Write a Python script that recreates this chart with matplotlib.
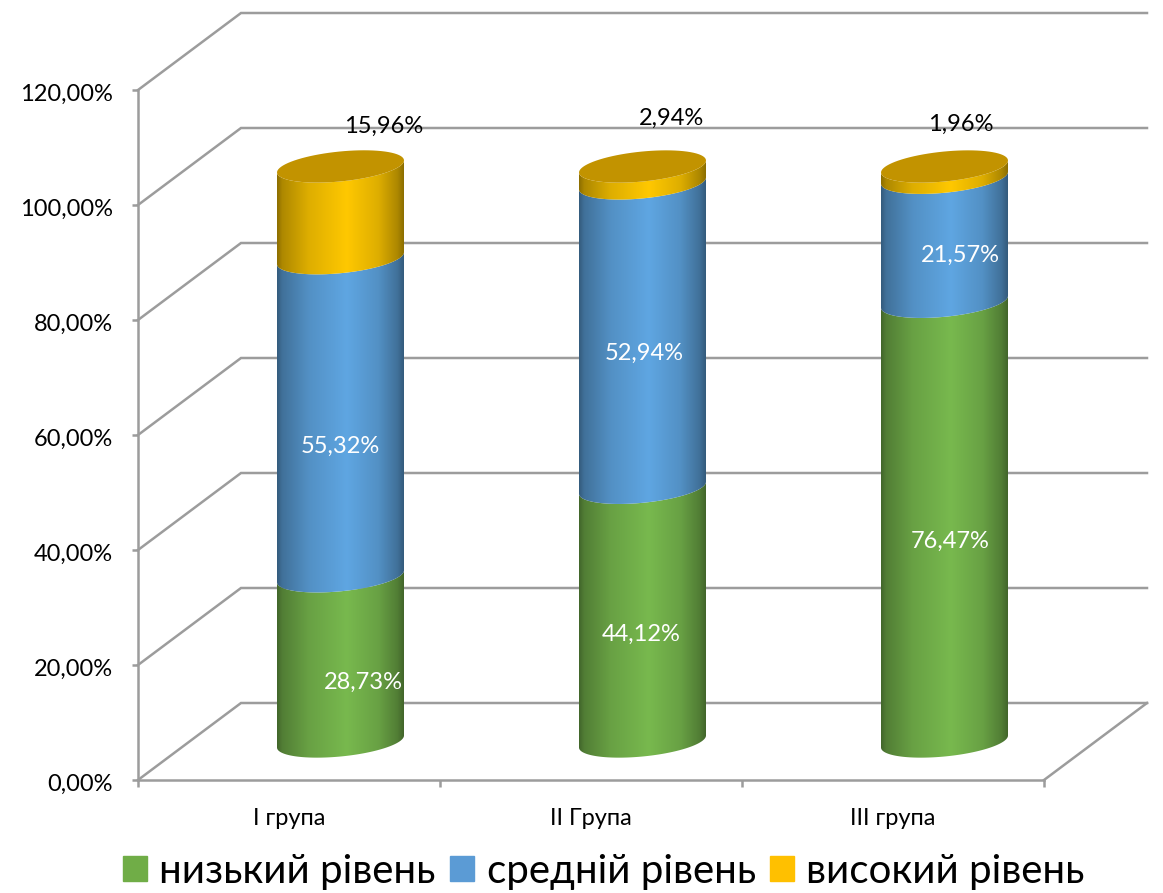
import numpy as np
import matplotlib
matplotlib.use('AGG')
import matplotlib.pyplot as plt
from matplotlib.patches import Patch, Polygon
from matplotlib.ticker import FuncFormatter, MultipleLocator
from matplotlib.transforms import ScaledTranslation

plt.rcParams['font.family'] = ['Lato', 'Noto Sans', 'DejaVu Sans']

groups = ['I група', 'II Група', 'III група']
low = [28.73, 44.12, 76.47]
mid = [55.32, 52.94, 21.57]
high = [15.96, 2.94, 1.96]
series_names = ['низький рівень', 'средній рівень', 'високий рівень']
tick_values = [0, 20, 40, 60, 80, 100, 120]

series_colors = ['#78B94E', '#5FA6E2', '#FFC800']
legend_colors = ['#70AD47', '#5B9BD5', '#FFC000']
cap_color = '#C29300'
grid_color = '#9C9C9C'

# label shift from the middle of each segment, in pixels
low_shift = [(23, -23), (-1, -20), (6, -20)]
mid_shift = [(0, -29), (2, -18), (16, -16)]
high_shift = [(43, 86), (29, 57), (16, 48)]

# depth of the fake 3d box and size of the cylinder, in data units
DEPTH_X = 103 / 302
DEPTH_Y = 77 / 5.75
RADIUS = 63.5 / 302
ELL_B = 15 / 5.75
ELL_TILT = 6 / 5.75

W, H = 1163, 893
fig = plt.figure(figsize=(W / 100, H / 100), dpi=100)
ax = fig.add_axes([138 / W, 1 - 780 / H, (1044 - 138) / W, 690 / H])
ax.patch.set_alpha(0)


def percent(v, pos=None):
    return f'{v:.2f}'.replace('.', ',') + '%'


def ellipse(cx, cy, start, stop, n=80):
    t = np.linspace(start, stop, n)
    x = cx + RADIUS * np.cos(t)
    y = cy + ELL_TILT * np.cos(t) + ELL_B * np.sin(t)
    return np.column_stack([x, y])


def shaded(color):
    # horizontal shading across the cylinder, dark on both edges
    rgb = np.array(matplotlib.colors.to_rgb(color))
    pos = np.linspace(0, 1, 256)
    k = np.interp(pos, [0, 0.04, 0.25, 0.55, 0.8, 0.95, 1],
                  [0.55, 0.68, 0.87, 1.0, 0.87, 0.68, 0.55])
    return (k[:, None] * rgb)[None, :, :]


def draw_segment(cx, y0, y1, color, z):
    lower = ellipse(cx, y0, np.pi, 2 * np.pi)
    upper = ellipse(cx, y1, 2 * np.pi, np.pi)
    poly = Polygon(np.vstack([lower, upper]), closed=True, fc='none', ec='none',
                   transform=ax.transData)
    ax.add_patch(poly)
    img = ax.imshow(shaded(color), aspect='auto', zorder=z, clip_on=True,
                    extent=[cx - RADIUS, cx + RADIUS, y0 - 4, y1 + 4])
    img.set_clip_path(poly)


# wall and floor lines
for v in tick_values:
    ax.plot([0, DEPTH_X, 3 + DEPTH_X], [v, v + DEPTH_Y, v + DEPTH_Y], color=grid_color,
            lw=1.8, clip_on=False, zorder=1, solid_joinstyle='miter')
ax.plot([3, 3 + DEPTH_X], [0, DEPTH_Y], color=grid_color, lw=1.8, clip_on=False, zorder=1)

# stacked cylinders
for i in range(len(groups)):
    cx = i + 0.5 + DEPTH_X / 2
    base = DEPTH_Y / 2
    bottom = 0
    for n, values in enumerate([low, mid, high]):
        draw_segment(cx, base + bottom, base + bottom + values[i], series_colors[n], 3 + n)
        bottom += values[i]
    cap = Polygon(ellipse(cx, base + bottom, 0, 2 * np.pi), closed=True, fc=cap_color,
                  ec='none', zorder=7)
    ax.add_patch(cap)

    # value labels
    running = 0
    for values, shift, col in [(low, low_shift, 'white'), (mid, mid_shift, 'white'),
                               (high, high_shift, 'black')]:
        ax.annotate(percent(values[i]), (cx, base + running + values[i] / 2),
                    xytext=shift[i], textcoords='offset pixels', ha='center', va='center',
                    color=col, fontsize=17, zorder=9, annotation_clip=False)
        running += values[i]

ax.set_xlim(0, 3)
ax.set_ylim(0, 120)
ax.yaxis.set_major_locator(MultipleLocator(20))
ax.yaxis.set_major_formatter(FuncFormatter(percent))
ax.set_xticks([0, 1, 2, 3])
ax.set_xticks([0.5, 1.5, 2.5], minor=True)
ax.set_xticklabels([])
ax.set_xticklabels(groups, minor=True)
ax.tick_params(axis='y', length=4, width=1.8, color=grid_color, labelsize=17, pad=14)
ax.tick_params(axis='x', which='major', length=5, width=1.8, color=grid_color)
ax.tick_params(axis='x', which='minor', length=0, labelsize=17, pad=20.5)
for side in ['top', 'right']:
    ax.spines[side].set_visible(False)
for side in ['left', 'bottom']:
    ax.spines[side].set_color(grid_color)
    ax.spines[side].set_linewidth(1.8)

# nudge the y tick labels down a little
nudge = ScaledTranslation(0, -2 / 100, fig.dpi_scale_trans)
for lab in ax.get_yticklabels():
    lab.set_transform(lab.get_transform() + nudge)

handles = [Patch(color=c) for c in legend_colors]
fig.legend(handles, series_names, ncol=3, loc='center', bbox_to_anchor=(604 / W, 1 - 871 / H),
           frameon=False, fontsize=29, handlelength=0.58, handleheight=0.58,
           handletextpad=0.32, columnspacing=0.36, borderpad=0, borderaxespad=0)

fig.savefig('out.png', dpi=100)
